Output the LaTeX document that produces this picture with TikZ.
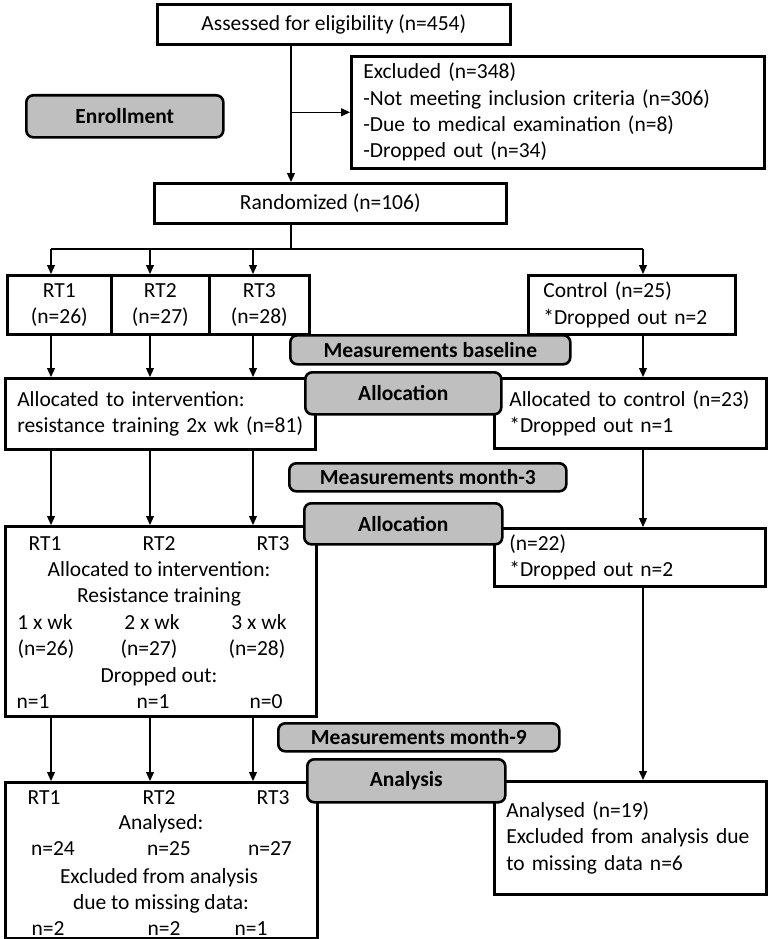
\documentclass[tikz,border=0pt]{standalone}
\usepackage{fontspec}
\setmainfont{Carlito}
\usepackage{xcolor}
\usepackage{tikz}
\usetikzlibrary{arrows.meta,positioning,calc}
\definecolor{phasegray}{RGB}{191,191,191}

\begin{document}
\begin{tikzpicture}[x=1pt,y=-1pt,>={Triangle[length=9pt,width=8pt]},
  every node/.style={font=\fontsize{21.5}{26.3}\selectfont},
  box/.style={draw,line width=2.6pt,fill=white,inner sep=0pt,anchor=north west},
  phase/.style={draw,line width=2.6pt,fill=phasegray,rounded corners=7pt,inner sep=0pt,anchor=north west,font=\fontsize{21.5}{26.3}\selectfont\bfseries},
  lbl/.style={anchor=base,inner sep=0pt},
  conn/.style={->,line width=1.1pt}]
\useasboundingbox (0,0) rectangle (769,939);
% Enrollment
\node[box,minimum width=353pt,minimum height=40pt] (assess) at (156,3) {Assessed for eligibility (n=454)};
\node[box,minimum width=413pt,minimum height=112pt,text width=389pt,align=left] (excl) at (350,55) {Excluded (n=348)\\-Not meeting inclusion criteria (n=306)\\-Due to medical examination (n=8)\\-Dropped out (n=34)};
\node[phase,minimum width=197pt,minimum height=42pt] (enroll) at (25,94) {Enrollment};
\node[box,minimum width=352pt,minimum height=40pt] (rand) at (153,182) {Randomized (n=106)};
% Groups at baseline
\foreach \i/\x/\w/\n in {1/6/104/26,2/110/98/27,3/208/100/28}
  \node[box,minimum width=\w pt,minimum height=59pt,align=center] (rt\i) at (\x,274) {RT\i\\(n=\n)};
\node[box,minimum width=207pt,minimum height=59pt,text width=177pt,align=left] (ctrl1) at (527,274) {Control (n=25)\\{*}Dropped out n=2};
\node[box,minimum width=310pt,minimum height=71pt,text width=286pt,align=left] (alloc1) at (4,377) {Allocated to intervention:\\resistance training 2x wk (n=81)};
\node[box,minimum width=272pt,minimum height=70pt,text width=242pt,align=left] (ctrl2) at (493,377) {Allocated to control (n=23)\\{*}Dropped out n=1};
% Month 3
\node[box,minimum width=311pt,minimum height=190pt] (rtbox2) at (4,525) {};
\node[box,minimum width=271pt,minimum height=58pt,text width=241pt,align=left] (ctrl3) at (493,527) {(n=22)\\{*}Dropped out n=2};
\foreach \t/\x [count=\i] in {RT1/45,RT2/159,RT3/273}
  \node[lbl] (mA\i) at (\x,550) {\t};
\node[lbl] (mB) at (159,576) {Allocated to intervention:};
\node[lbl] (mC) at (159,602) {Resistance training};
\foreach \t/\x [count=\i] in {1 x wk/45,2 x wk/152,3 x wk/259}
  \node[lbl] (mD\i) at (\x,629) {\t};
\foreach \t/\x [count=\i] in {26/46,27/149,28/257}
  \node[lbl] (mE\i) at (\x,655) {(n=\t)};
\node[lbl] (mF) at (159,682) {Dropped out:};
\foreach \t/\x [count=\i] in {1/33,1/153,0/266}
  \node[lbl] (mG\i) at (\x,708) {n=\t};
% Month 9 / analysis
\node[box,minimum width=312pt,minimum height=156pt] (rtbox3) at (4,781) {};
\node[box,minimum width=272pt,minimum height=113pt,text width=248pt,align=left] (ctrl4) at (493,780) {Analysed (n=19)\\Excluded from analysis due\\to missing data n=6};
\foreach \t/\x [count=\i] in {RT1/44,RT2/159,RT3/273}
  \node[lbl] (aA\i) at (\x,804) {\t};
\node[lbl] (aB) at (161,829) {Analysed:};
\foreach \t/\x [count=\i] in {24/53,25/169,27/270}
  \node[lbl] (aC\i) at (\x,855) {n=\t};
\node[lbl] (aD) at (159,883) {Excluded from analysis};
\node[lbl] (aE) at (161,909) {due to missing data:};
\foreach \t/\x [count=\i] in {2/48,2/164,1/251}
  \node[lbl] (aF\i) at (\x,935) {n=\t};
% Phase labels
\node[phase,minimum width=280pt,minimum height=29pt] (mbase) at (289,334) {Measurements baseline};
\node[phase,minimum width=196pt,minimum height=42pt] (allocA) at (304,371) {Allocation};
\node[phase,minimum width=277pt,minimum height=28pt] (mthree) at (288,462) {Measurements month-3};
\node[phase,minimum width=198pt,minimum height=41pt] (allocB) at (303,502) {Allocation};
\node[phase,minimum width=281pt,minimum height=28pt] (mnine) at (277,722) {Measurements month-9};
\node[phase,minimum width=198pt,minimum height=43pt] (anal) at (306,758) {Analysis};
% Connectors
\coordinate (spine) at (291,0);
\coordinate (fork) at (291,249);
\coordinate (k1) at (51,0);
\coordinate (k2) at (150,0);
\coordinate (k3) at (253,0);
\coordinate (k4) at (643,0);
\draw[conn] (assess.south -| spine) -- (rand.north -| spine);
\draw[conn] (spine |- excl.west) -- (excl.west);
\draw[line width=1.1pt] (rand.south -| spine) -- (fork);
\draw[line width=1.1pt] (fork -| k1) -- (fork -| k4);
\foreach \k/\n in {k1/rt1,k2/rt2,k3/rt3,k4/ctrl1}
  \draw[conn] (fork -| \k) -- (\k |- \n.north);
\foreach \k/\n in {k1/rt1,k2/rt2,k3/rt3}
  \draw[conn] (\k |- \n.south) -- (\k |- alloc1.north);
\draw[conn] (k4 |- ctrl1.south) -- (k4 |- ctrl2.north);
\foreach \k in {k1,k2,k3}
  \draw[conn] (\k |- alloc1.south) -- (\k |- rtbox2.north);
\draw[conn] (k4 |- ctrl2.south) -- (k4 |- ctrl3.north);
\foreach \k in {k1,k2,k3}
  \draw[conn] (\k |- rtbox2.south) -- (\k |- rtbox3.north);
\draw[conn] (k4 |- ctrl3.south) -- (k4 |- ctrl4.north);
\end{tikzpicture}
\end{document}
